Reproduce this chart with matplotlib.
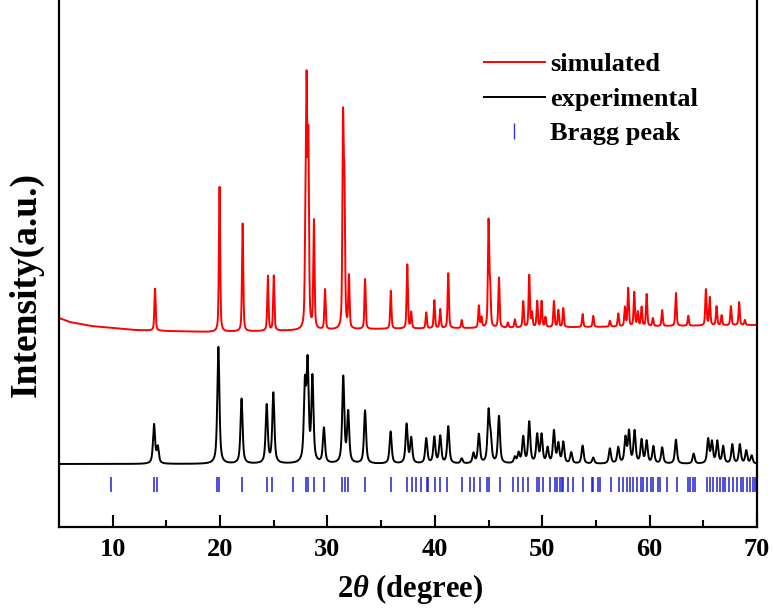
import numpy as np
import matplotlib
matplotlib.use('Agg')
from matplotlib import pyplot as plt
from matplotlib.lines import Line2D

# simulated pattern: peak positions (2theta) and heights
sim_pos = [13.94, 19.95, 22.1, 24.45, 25.0, 27.95, 28.06, 28.22, 28.74, 29.77,
           31.45, 31.58, 32.0, 33.5, 35.9, 37.43, 37.8, 39.2, 39.95, 40.5,
           41.25, 42.5, 44.1, 44.35, 45.0, 45.15, 45.97, 46.8, 47.45, 48.23,
           48.79, 49.05, 49.53, 49.94, 50.3, 51.09, 51.5, 51.96, 53.76, 54.75,
           56.3, 57.08, 57.7, 58.0, 58.57, 58.9, 59.25, 59.72, 60.3, 61.17,
           62.45, 63.6, 65.24, 65.6, 66.23, 66.7, 67.57, 68.34, 68.87]
sim_height = [42, 145, 108, 55, 55, 85, 223, 180, 108, 40,
              200, 130, 52, 50, 38, 64, 16, 16, 28, 19,
              55, 8, 22, 10, 105, 38, 50, 5, 8, 26,
              52, 14, 26, 26, 10, 26, 17, 19, 13, 11,
              6, 13, 19, 38, 34, 14, 19, 32, 8, 16,
              33, 10, 36, 28, 19, 10, 19, 23, 5]

# experimental pattern
exp_pos = [13.85, 14.2, 19.84, 22.0, 24.34, 24.96, 27.9, 28.15, 28.6, 29.67,
           31.47, 31.93, 33.5, 35.88, 37.37, 37.8, 39.2, 39.95, 40.5, 41.25,
           42.5, 43.6, 44.1, 45.0, 45.2, 45.97, 47.45, 47.8, 48.23, 48.79,
           49.53, 49.94, 50.5, 51.09, 51.5, 51.96, 52.7, 53.76, 54.75, 56.3,
           57.08, 57.75, 58.08, 58.6, 59.25, 59.72, 60.35, 61.17, 62.45, 64.1,
           65.45, 65.8, 66.3, 66.85, 67.7, 68.4, 69.0, 69.5]
exp_height = [39, 16, 117, 65, 58, 70, 74, 95, 84, 35,
              86, 50, 53, 32, 39, 25, 25, 26, 27, 37,
              5, 10, 29, 50, 22, 47, 6, 10, 26, 41,
              28, 28, 15, 32, 19, 21, 11, 18, 6, 15,
              16, 25, 31, 32, 23, 22, 17, 16, 24, 10,
              24, 21, 22, 17, 19, 19, 13, 8]

# background of simulated curve
sim_bg_x = [5, 6, 8, 10, 12, 15, 19, 25, 35, 45, 55, 70]
sim_bg_y = [209, 205, 201, 199, 197, 196, 195, 196, 198, 199, 200, 202]
exp_bg = 63

# Bragg peak positions
bragg_pos = [9.81, 13.85, 14.16, 19.69, 19.9, 22.0, 24.34, 24.8, 26.8, 28.0,
             28.2, 28.7, 29.67, 31.38, 31.6, 31.93, 33.5, 35.88, 37.43, 37.84,
             38.24, 38.68, 39.23, 39.39, 40.01, 40.48, 41.1, 42.5, 43.27, 43.64,
             44.2, 44.88, 45.07, 46.06, 47.3, 47.77, 48.23, 48.7, 49.53, 49.72,
             50.09, 50.72, 51.18, 51.4, 51.65, 51.8, 51.96, 52.42, 52.89, 53.76,
             54.6, 54.75, 55.21, 55.37, 56.4, 57.17, 57.49, 57.86, 58.17, 58.47,
             58.85, 59.16, 59.4, 59.78, 60.09, 60.33, 60.8, 60.96, 61.58, 62.51,
             63.59, 63.75, 64.0, 64.22, 65.31, 65.61, 65.92, 66.24, 66.55, 66.85,
             67.01, 67.41, 67.78, 68.16, 68.47, 68.72, 69.03, 69.34, 69.65, 69.8]


def pseudo_voigt(x, x0, w, eta):
    # peak normalised to 1 at x0
    lor = 1.0 / (1.0 + ((x - x0) / (w / 2)) ** 2)
    gau = np.exp(-4 * np.log(2) * ((x - x0) / w) ** 2)
    return eta * lor + (1 - eta) * gau


def pattern(x, pos, height, w, eta):
    y = np.zeros_like(x)
    for p, h in zip(pos, height):
        y += h * pseudo_voigt(x, p, w, eta)
    return y


x = np.linspace(5, 70, 8000)
sim = np.interp(x, sim_bg_x, sim_bg_y) + pattern(x, sim_pos, sim_height, 0.14, 0.5)
exp = exp_bg + pattern(x, exp_pos, exp_height, 0.23, 0.7)

plt.rcParams['font.family'] = 'Liberation Serif'
plt.rcParams['font.weight'] = 'bold'
plt.rcParams['mathtext.fontset'] = 'custom'
plt.rcParams['mathtext.it'] = 'Liberation Serif:italic'
plt.rcParams['mathtext.rm'] = 'Liberation Serif'

fig = plt.figure(figsize=(7.74, 6.10), dpi=100)
ax = fig.add_axes([59 / 774, 83 / 610, 698 / 774, 527 / 610])

ax.plot(x, sim, color='#ff0000', lw=1.4)
ax.plot(x, exp, color='black', lw=1.4)
ax.vlines(bragg_pos, 35, 50, color='#1f1fd6', lw=1.1)

ax.set_xlim(5, 70)
ax.set_ylim(0, 527)
ax.set_xticks([10, 20, 30, 40, 50, 60, 70])
ax.set_xticks([15, 25, 35, 45, 55, 65], minor=True)
ax.tick_params(axis='x', which='major', direction='in', length=9, width=1.5,
               labelsize=19, pad=8)
ax.tick_params(axis='x', which='minor', direction='in', length=5, width=1.5)
ax.set_yticks([])
ax.spines['top'].set_visible(False)
for s in ['left', 'right', 'bottom']:
    ax.spines[s].set_linewidth(1.6)

ax.set_xlabel(r'2$\theta$ (degree)', fontsize=22, fontweight='bold')
ax.xaxis.set_label_coords(0.503, -0.085)
ax.set_ylabel('Intensity(a.u.)', fontsize=27, fontweight='bold')
ax.yaxis.set_label_coords(-0.022, 0.46)

handles = [Line2D([], [], color='#ff0000', lw=1.4),
           Line2D([], [], color='black', lw=1.4),
           Line2D([], [], color='#3333cc', lw=0, marker='|', markersize=12)]
ax.legend(handles, ['simulated', 'experimental', 'Bragg peak'],
          loc='upper left', bbox_to_anchor=(0.575, 0.945), frameon=False,
          fontsize=19, handlelength=2.3, handletextpad=0.2, labelspacing=0.42)

fig.savefig('out.png', dpi=100)
